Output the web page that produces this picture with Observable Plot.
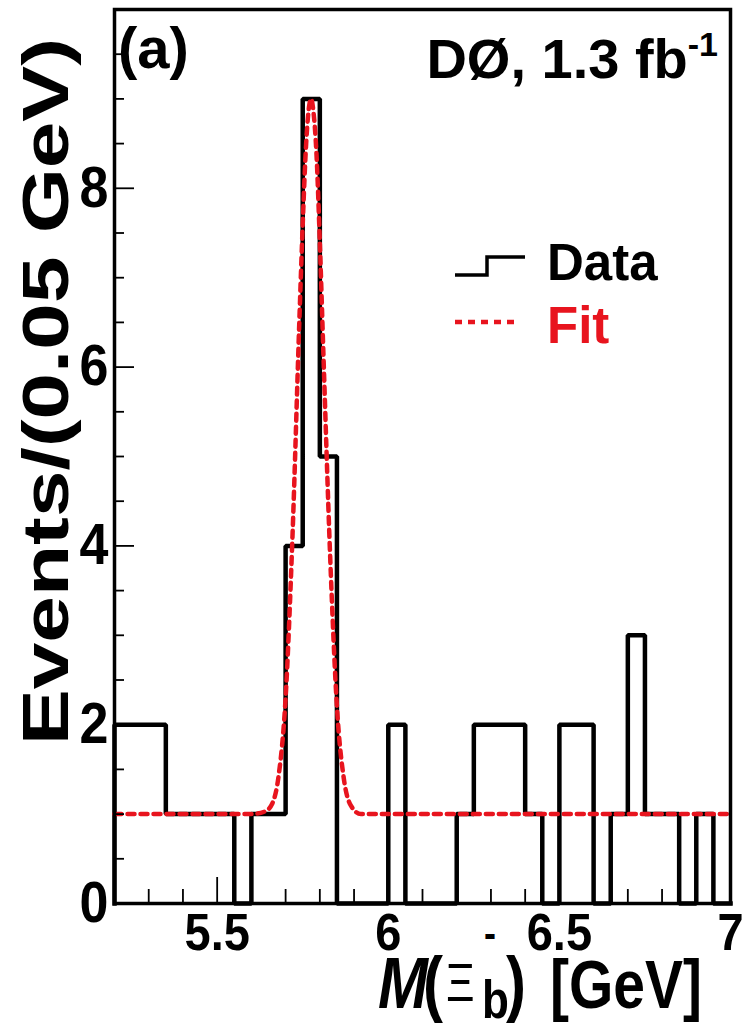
<!DOCTYPE html>
<html>
<head>
<meta charset="utf-8">
<script src="https://cdn.jsdelivr.net/npm/d3@7"></script>
<script src="https://cdn.jsdelivr.net/npm/@observablehq/plot@0.6"></script>
<style>
  html, body { margin: 0; padding: 0; background: #ffffff; }
  #chart svg { display: block; }
</style>
</head>
<body>
<div id="chart"></div>
<script>
// ---- Data ----
// Lower edges of the 0.05 GeV mass bins (GeV)
const binLow = [5.20, 5.25, 5.30, 5.35, 5.40, 5.45, 5.50, 5.55, 5.60, 5.65,
                5.70, 5.75, 5.80, 5.85, 5.90, 5.95, 6.00, 6.05, 6.10, 6.15,
                6.20, 6.25, 6.30, 6.35, 6.40, 6.45, 6.50, 6.55, 6.60, 6.65,
                6.70, 6.75, 6.80, 6.85, 6.90, 6.95];
// Events per bin (Data histogram)
const binCounts = [2, 2, 2, 1, 1, 1, 1, 0, 1, 1,
                   4, 9, 5, 0, 0, 0, 2, 0, 0, 0,
                   1, 2, 2, 2, 1, 0, 2, 2, 0, 1,
                   3, 1, 1, 0, 1, 0];
const binWidth = 0.05;
// Fit curve, points
const fitMass   = [5.20, 5.60, 5.64, 5.66, 5.68, 5.70, 5.72, 5.74, 5.75, 5.76, 5.77, 5.775, 5.78, 5.79, 5.80, 5.81, 5.83, 5.85, 5.87, 5.89, 5.92, 7.00];
const fitEvents = [1.00, 1.00, 1.03, 1.11, 1.44, 2.30, 4.10, 6.50, 7.60, 8.50, 8.95, 9.00, 8.90, 8.40, 7.40, 6.20, 3.90, 2.20, 1.40, 1.10, 1.00, 1.00];
// Axis ticks
const xMajorTicks = [5.5, 6, 6.5, 7];
const xMinorTicks = [5.3, 5.4, 5.6, 5.7, 5.8, 5.9, 6.1, 6.2, 6.3, 6.4, 6.6, 6.7, 6.8, 6.9];
const yMajorTicks = [0, 2, 4, 6, 8];
const yMinorTicks = [0.5, 1, 1.5, 2.5, 3, 3.5, 4.5, 5, 5.5, 6.5, 7, 7.5, 8.5, 9, 9.5];
const xDomain = [5.2, 7.0];
const yDomain = [0, 10];

// ---- Build tables for the marks ----
const lastEdge = binLow[binLow.length - 1] + binWidth;
const stepData = [{x: binLow[0], y: 0}]
  .concat(binLow.map((x, i) => ({x, y: binCounts[i]})))
  .concat([{x: lastEdge, y: binCounts[binCounts.length - 1]}, {x: lastEdge, y: 0}]);
const fitData = fitMass.map((x, i) => ({x, y: fitEvents[i]}));

const W = 746, H = 1031;
const mL = 114, mR = 16, mT = 9, mB = 128;
const innerW = W - mL - mR, innerH = H - mT - mB;
const RED = "#e8141e";
const DASH = "7,6";
const FONT = "'Liberation Sans', Arial, Helvetica, sans-serif";

const plot = Plot.plot({
  width: W,
  height: H,
  marginLeft: mL,
  marginRight: mR,
  marginTop: mT,
  marginBottom: mB,
  style: {fontFamily: FONT, background: "#ffffff", color: "#000000"},
  x: {domain: xDomain},
  y: {domain: yDomain},
  marks: [
    Plot.line(stepData, {x: "x", y: "y", curve: "step-after", stroke: "#000000", strokeWidth: 4.5, strokeLinejoin: "miter", strokeLinecap: "square"}),
    Plot.line(fitData, {x: "x", y: "y", curve: "monotone-x", stroke: RED, strokeWidth: 4.5, strokeDasharray: DASH}),
    Plot.tickX(xMajorTicks, {x: d => d, insetTop: innerH - 26, stroke: "#000000", strokeWidth: 1.8}),
    Plot.tickX(xMinorTicks, {x: d => d, insetTop: innerH - 14, stroke: "#000000", strokeWidth: 1.8}),
    Plot.tickY(yMajorTicks, {y: d => d, insetRight: innerW - 20, stroke: "#000000", strokeWidth: 1.8}),
    Plot.tickY(yMinorTicks, {y: d => d, insetRight: innerW - 10, stroke: "#000000", strokeWidth: 1.8}),
    Plot.axisX(xMajorTicks, {tickSize: 0, tickPadding: 9, fontSize: 47, fontWeight: "bold", tickFormat: d => String(d), label: null}),
    Plot.axisY(yMajorTicks, {tickSize: 0, tickPadding: 6, fontSize: 52, fontWeight: "bold", tickFormat: d => String(d), label: null}),
    Plot.frame({stroke: "#000000", strokeWidth: 3.5})
  ]
});
document.getElementById("chart").appendChild(plot);

const svg = d3.select(plot);

// Slight vertical stretch of the tick labels, as in the reference
function stretch(sel, k) {
  sel.each(function() {
    const t = this.getAttribute("transform");
    if (t) this.setAttribute("transform", t + ` scale(1,${k})`);
  });
}
stretch(svg.selectAll('g[aria-label="x-axis tick label"] text'), 1.12);
stretch(svg.selectAll('g[aria-label="y-axis tick label"] text'), 1.1);

// ---- Titles, annotations and legend ----
const ann = svg.append("g")
  .attr("font-family", FONT)
  .attr("font-weight", "bold")
  .attr("text-anchor", "start")
  .attr("fill", "#000000");

// Y axis title
ann.append("text")
  .attr("transform", "translate(68,745) rotate(-90)")
  .attr("font-size", 64)
  .attr("textLength", 707)
  .attr("lengthAdjust", "spacingAndGlyphs")
  .text("Events/(0.05 GeV)");

// X axis title: M(Ξ_b^-) [GeV]
const xg = ann.append("g").attr("transform", "translate(378,1008) scale(1,1.2)");
const xt = xg.append("text").attr("font-size", 60);
xt.append("tspan").attr("x", 0).attr("y", 0).attr("font-style", "italic").text("M");
xt.append("tspan").attr("x", 45).attr("y", 0).text("(");
xt.append("tspan").attr("x", 68).attr("y", -6).attr("font-size", 44).attr("font-weight", "normal").text("Ξ");
xt.append("tspan").attr("x", 104).attr("y", 8).attr("font-size", 44).text("b");
xt.append("tspan").attr("x", 128).attr("y", 0).text(")");
xt.append("tspan").attr("x", 172).attr("y", 0).attr("font-size", 57).text("[GeV]");
xg.append("text").attr("x", 106).attr("y", -50).attr("font-size", 36).text("-");

// (a) label
ann.append("text").attr("x", 118).attr("y", 68).attr("font-size", 58).text("(a)");

// DØ label
const d0 = ann.append("text").attr("x", 718).attr("y", 78)
  .attr("font-size", 56).attr("text-anchor", "end");
d0.append("tspan").text("DØ, 1.3 fb");
d0.append("tspan").attr("font-size", 34).attr("dy", -22).text("-1");

// Legend
ann.append("path").attr("d", "M455,275 H487 V257 H525").attr("fill", "none")
  .attr("stroke", "#000000").attr("stroke-width", 3.5);
ann.append("text").attr("x", 547).attr("y", 280).attr("font-size", 51).text("Data");
ann.append("path").attr("d", "M455,322 H520").attr("fill", "none")
  .attr("stroke", RED).attr("stroke-width", 4.5).attr("stroke-dasharray", DASH);
ann.append("text").attr("x", 547).attr("y", 343).attr("font-size", 51).attr("fill", RED).text("Fit");
</script>
</body>
</html>
